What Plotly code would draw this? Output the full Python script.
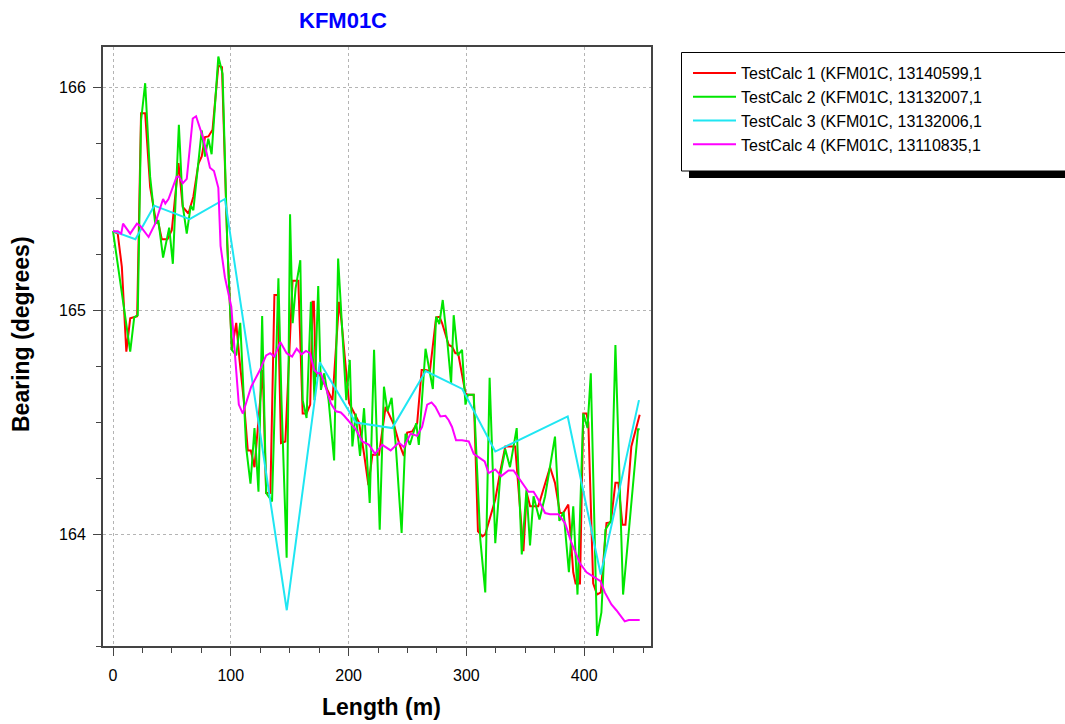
import plotly.graph_objects as go

# ---------------- data ----------------
calc1_len = [0, 4, 7.5, 11.3, 14.6, 18, 20.5, 23.8, 27.3, 31.5,
             35.8, 38.6, 41.4, 46.2, 49.9, 55.6, 59.2, 64, 68.2, 72.5,
             75.3, 78.1, 81, 84.5, 89.4, 92.5, 97, 100.9, 104.6, 107.4,
             111, 114.4, 117, 120.1, 127.1, 130, 133.6, 137, 139.8, 142.6,
             146.3, 152.4, 157.3, 161, 164.3, 167.4, 169.4, 170.5, 172.2, 175,
             179, 186.3, 191.9, 194, 200.4, 204, 208.9, 213.1, 216.8, 220.2,
             225.8, 231.4, 234, 238.5, 242.7, 246.9, 249.7, 254, 258.2, 262,
             265.3, 269, 274.3, 277.2, 279.4, 285, 287.8, 290.6, 293, 299.2,
             301.3, 306.2, 309.8, 313.7, 316, 324.5, 328.7, 333, 341.4, 348.4,
             351.2, 354.1, 361, 365.3, 371, 375.2, 379.4, 382.2, 386.5, 390.7,
             392.7, 396.4, 399.2, 402, 403.5, 407.6, 410.9, 414.1, 418.9, 422.6,
             426.5, 429, 432.4, 435, 440, 447.1]
calc1_bearing = [165.356, 165.345, 165.196, 164.817, 164.966, 164.973, 164.975, 165.884, 165.884, 165.554,
                 165.42, 165.39, 165.32, 165.32, 165.36, 165.66, 165.464, 165.435, 165.51, 165.658,
                 165.69, 165.777, 165.78, 165.81, 166.097, 166.09, 165.3, 164.825, 164.946, 164.78,
                 164.6, 164.375, 164.375, 164.30, 164.735, 164.185, 164.185, 165.07, 165.07, 164.408,
                 164.415, 165.134, 165.134, 164.54, 164.54, 164.58, 165.04, 165.04, 164.705, 164.72,
                 164.68, 164.60, 165.04, 164.95, 164.587, 164.55, 164.50, 164.36, 164.22, 164.356,
                 164.356, 164.57, 164.54, 164.49, 164.41, 164.35, 164.455, 164.46, 164.497, 164.735,
                 164.735, 164.73, 164.97, 164.973, 164.944, 164.847, 164.84, 164.81, 164.81, 164.63,
                 164.624, 164.624, 164.013, 163.99, 164.0, 164.155, 164.281, 164.393, 164.393, 163.924,
                 164.185, 164.125, 164.125, 164.2, 164.30, 164.23, 164.095, 164.095, 164.133, 163.83,
                 163.78, 163.78, 164.54, 164.54, 164.5, 163.78, 163.73, 163.74, 164.05, 164.054,
                 164.23, 164.23, 164.043, 164.043, 164.393, 164.535]

calc2_len = [0, 14.6, 18, 21, 23.8, 27.3, 31.5, 35.8, 38.6, 42.5,
             47.7, 50.8, 55.9, 59.2, 62.6, 66, 68.2, 72.5, 75.3, 78.1,
             80.9, 83.7, 89.4, 93, 97, 100.9, 104.6, 108, 113, 116.7,
             120.1, 123.5, 126.6, 130, 135, 140.4, 143, 147.4, 150.3, 152.5,
             155, 159, 161, 164.3, 168, 171, 174.2, 176.5, 179.3, 183,
             187.7, 191.1, 194, 198, 201, 203.2, 206, 209.7, 213.1, 217.9,
             221.6, 226.4, 230, 233, 236.5, 240, 245, 248.3, 252, 257.4,
             259.6, 265.3, 271.5, 274.3, 277, 279.9, 284, 287, 289.2, 292.6,
             296.3, 299.2, 301.3, 306.2, 309, 311.8, 316, 319.7, 324.5, 328.7,
             333, 337, 342.7, 347, 351, 354, 357, 362, 366.8, 371,
             375.2, 378.9, 382.5, 387, 390.7, 394.3, 399.2, 402.8, 405.6, 410.9,
             414.6, 418, 422.6, 426.5, 433, 445.7, 447.1]
calc2_bearing = [165.356, 164.817, 164.97, 164.98, 165.85, 166.018, 165.6, 165.39, 165.4, 165.238,
                 165.372, 165.21, 165.832, 165.47, 165.345, 165.47, 165.45, 165.66, 165.807, 165.69,
                 165.77, 165.70, 166.137, 166.06, 165.3, 164.825, 164.80, 164.946, 164.39, 164.226,
                 164.475, 164.19, 164.976, 164.185, 164.147, 165.145, 164.6, 163.895, 165.432, 164.944,
                 165.1, 165.226, 164.6, 164.52, 165.04, 164.6, 165.11, 164.646, 164.72, 164.6,
                 164.33, 165.234, 164.95, 164.6, 164.78, 164.393, 164.54, 164.35, 164.564, 164.14,
                 164.825, 164.02, 164.66, 164.55, 164.61, 164.4, 164.006, 164.45, 164.4, 164.497,
                 164.40, 164.83, 164.65, 164.973, 164.94, 165.048, 164.85, 164.676, 164.98, 164.80,
                 164.825, 164.58, 164.624, 164.624, 164.3, 163.976, 163.74, 164.70, 163.96, 164.26,
                 164.38, 164.3, 164.475, 163.91, 164.2, 163.95, 164.17, 164.066, 164.17, 164.30,
                 164.437, 164.06, 164.1, 163.83, 164.125, 163.73, 164.54, 164.475, 164.72, 163.545,
                 163.65, 164.02, 164.06, 164.847, 163.73, 164.47, 164.47]

calc3_len = [0, 19, 35, 65, 95, 147.5, 175.5, 206, 237, 265.5, 296.5, 324.5, 386, 414, 446.5]
calc3_bearing = [165.356, 165.32, 165.47, 165.41, 165.50, 163.66, 164.77, 164.50, 164.475,
                 164.73, 164.65, 164.37, 164.527, 163.82, 164.60]

calc4_len = [0, 4, 7, 8.5, 14.6, 20.3, 23, 30.2, 35.8, 42.5,
             44.4, 47.1, 54, 56, 59.2, 62.6, 67.7, 70.5, 76.7, 82.3,
             85.7, 89.4, 91.3, 95, 100.4, 106.8, 110.2, 117.3, 124.3, 130,
             133.4, 137, 142, 147.4, 152, 155.9, 160.1, 163.8, 167.2, 170.8,
             173.6, 176.5, 181, 185, 189.2, 193.4, 196.2, 200.4, 206, 211.7,
             217.3, 222.4, 228.6, 235.7, 242.7, 246.9, 252.6, 258.2, 262.4, 266.7,
             270.4, 273.7, 277.9, 282.2, 285, 287.8, 291.2, 296.3, 302, 306.2,
             315.5, 318.8, 324.5, 329.6, 335.7, 340, 347, 352.6, 357, 361,
             366.8, 371, 378, 383.7, 389.3, 396.4, 402, 410.5, 413.8, 417.5,
             423.1, 427.3, 434.4, 437.8, 447.1]
calc4_bearing = [165.356, 165.356, 165.345, 165.39, 165.345, 165.39, 165.38, 165.33, 165.39, 165.50,
                 165.48, 165.50, 165.60, 165.60, 165.57, 165.59, 165.86, 165.87, 165.77, 165.64,
                 165.625, 165.55, 165.29, 165.15, 165.018, 164.58, 164.54, 164.66, 164.73, 164.80,
                 164.81, 164.795, 164.86, 164.81, 164.795, 164.83, 164.805, 164.82, 164.81, 164.735,
                 164.72, 164.72, 164.65, 164.585, 164.55, 164.545, 164.53, 164.505, 164.47, 164.415,
                 164.40, 164.36, 164.40, 164.375, 164.41, 164.39, 164.45, 164.44, 164.48, 164.58,
                 164.59, 164.57, 164.527, 164.53, 164.51, 164.48, 164.42, 164.42, 164.415, 164.36,
                 164.326, 164.274, 164.29, 164.26, 164.285, 164.285, 164.232, 164.19, 164.19, 164.155,
                 164.095, 164.09, 164.09, 164.05, 163.96, 163.87, 163.83, 163.80, 163.79, 163.74,
                 163.686, 163.66, 163.61, 163.616, 163.616]

series_names = ["TestCalc 1 (KFM01C, 13140599,1",
                "TestCalc 2 (KFM01C, 13132007,1",
                "TestCalc 3 (KFM01C, 13132006,1",
                "TestCalc 4 (KFM01C, 13110835,1"]
series_colors = ["#ff0000", "#00e600", "#1fe6f2", "#ff00ff"]

x_tick_vals = [0, 100, 200, 300, 400]
y_tick_vals = [164, 165, 166]

# ---------------- layout helpers ----------------
W, H = 1065, 724
L, R, T, B = 103, 651, 47, 646   # plot-area pixel edges


def px(xp):
    return (xp - L) / (R - L)


def py(yp):
    return (B - yp) / (B - T)


FONT = "Liberation Sans, Arial, Helvetica, sans-serif"

fig = go.Figure()
data = [(calc1_len, calc1_bearing), (calc2_len, calc2_bearing),
        (calc3_len, calc3_bearing), (calc4_len, calc4_bearing)]
for (xs, ys), name, col in zip(data, series_names, series_colors):
    fig.add_trace(go.Scatter(x=xs, y=ys, mode="lines", name=name,
                             line=dict(color=col, width=2)))

axis_common = dict(
    showline=True, mirror=True, linecolor="#444444", linewidth=2,
    showgrid=True, gridcolor="#b4b4b4", gridwidth=1, griddash="3px,3px",
    zeroline=False, ticks="outside", ticklen=8, tickwidth=1, tickcolor="#444444",
    tickfont=dict(family=FONT, size=16, color="black"),
)

fig.update_xaxes(range=[-8.5, 456.7], tickvals=x_tick_vals,
                 minor=dict(dtick=25, tick0=0, ticks="outside", ticklen=5,
                            tickcolor="#444444", showgrid=False),
                 ticklabelstandoff=6, **axis_common)
fig.update_yaxes(range=[163.5, 166.18], tickvals=y_tick_vals,
                 minor=dict(dtick=0.25, tick0=163, ticks="outside", ticklen=5,
                            tickcolor="#444444", showgrid=False),
                 ticklabelstandoff=4, **axis_common)

shapes = [
    # legend shadow
    dict(type="rect", xref="paper", yref="paper", x0=px(689), x1=px(1120),
         y0=py(178), y1=py(60), fillcolor="black", line=dict(width=0), layer="above"),
    # legend box
    dict(type="rect", xref="paper", yref="paper", x0=px(681.5), x1=px(1120),
         y0=py(171), y1=py(52.5), fillcolor="white",
         line=dict(color="black", width=1), layer="above"),
]

annotations = [
    dict(text="<b>KFM01C</b>", x=px(343), y=py(21), xref="paper", yref="paper",
         showarrow=False, xanchor="center", yanchor="middle",
         font=dict(family=FONT, size=22, color="#0000ff")),
    dict(text="<b>Length (m)</b>", x=px(381), y=py(707), xref="paper", yref="paper",
         showarrow=False, xanchor="center", yanchor="middle",
         font=dict(family=FONT, size=23, color="black")),
    dict(text="<b>Bearing (degrees)</b>", x=px(21), y=py(334), xref="paper", yref="paper",
         showarrow=False, xanchor="center", yanchor="middle", textangle=-90,
         font=dict(family=FONT, size=23, color="black")),
]

fig.update_layout(
    width=W, height=H,
    margin=dict(l=L, r=W - R, t=T, b=H - B),
    paper_bgcolor="white", plot_bgcolor="white",
    showlegend=True,
    legend=dict(x=px(688), y=py(56), xanchor="left", yanchor="top",
                bgcolor="rgba(0,0,0,0)", borderwidth=0,
                font=dict(family=FONT, size=16, color="black"),
                itemwidth=43, tracegroupgap=0),
    shapes=shapes, annotations=annotations,
)

fig.write_html("out.html")
